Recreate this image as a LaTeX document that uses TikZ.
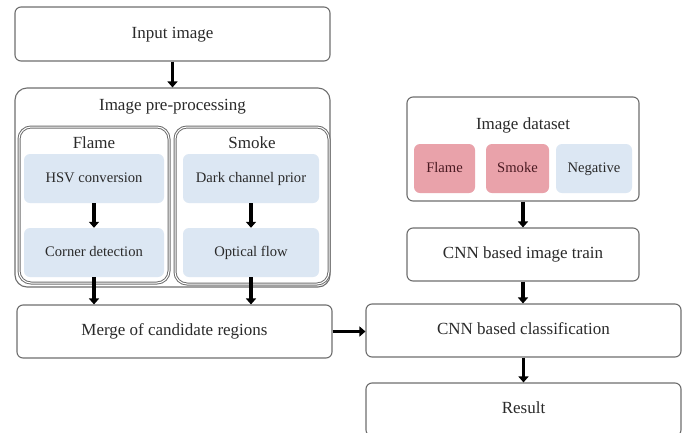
\documentclass[tikz,border=0pt]{standalone}
\usepackage{fontspec}
\setmainfont{Liberation Serif}
\usetikzlibrary{arrows.meta,positioning}
\definecolor{BoxLine}{HTML}{6E6E6E}
\definecolor{StepBlue}{HTML}{DCE7F3}
\definecolor{ClassPink}{HTML}{E9A2AA}
\definecolor{ClassText}{HTML}{4A1A22}
\definecolor{Ink}{HTML}{2A2A2A}

\begin{document}
\begin{tikzpicture}[x=1pt,y=-1pt,font=\fontsize{17}{19}\selectfont,text=Ink,
      stage/.style={rounded corners=6pt,draw=BoxLine,fill=white,
                    line width=1.1pt,inner sep=0pt,
                    text height=11.5pt,text depth=3.5pt},
      group/.style={rounded corners=12pt,draw=BoxLine,line width=1pt,
                    double=white,double distance=1pt,inner sep=0pt},
      substep/.style={rounded corners=6pt,fill=StepBlue,inner sep=0pt,
                      minimum width=140pt,minimum height=49pt,
                      text height=10pt,text depth=3pt,
                      font=\fontsize{14.6}{17}\selectfont},
      sample/.style={rounded corners=6pt,inner sep=0pt,minimum height=49pt,
                     text height=10pt,text depth=3pt,
                     font=\fontsize{14.6}{17}\selectfont},
      flow/.style={-{Triangle[length=6pt,width=10pt]},line width=3.2pt}]
    \useasboundingbox (0,0) rectangle (686,432);
    \clip (0,0) rectangle (686,432);

    % Left column: detection of candidate regions.
    \node[stage,minimum width=315pt,minimum height=54pt] (input) at (172.5,34)
      {Input image};
    \node[stage,rounded corners=12pt,minimum width=315pt,minimum height=199pt]
      (pre) at (172.5,187.5) {};
    \node (pretitle) at (172.5,107) {Image pre-processing};
    \node[group,minimum width=150pt,minimum height=156pt] (flamegrp)
      at (94,205) {};
    \node[group,minimum width=154pt,minimum height=157pt] (smokegrp)
      at (252,205.5) {};
    \node (flamelabel) at (94,143) {Flame};
    \node (smokelabel) at (252,143) {Smoke};
    \node[substep] (hsv) at (94,178.5) {HSV conversion};
    \node[substep] (corner) at (94,252.5) {Corner detection};
    \node[substep,minimum width=136pt] (dark) at (251,178.5)
      {Dark channel prior};
    \node[substep,minimum width=136pt] (optical) at (251,252.5)
      {Optical flow};
    \node[stage,minimum width=315pt,minimum height=53pt] (merge)
      at (174.5,331.5) {Merge of candidate regions};

    % Right column: training and classification.
    \node[stage,minimum width=232pt,minimum height=104pt] (dataset)
      at (523,149) {};
    \node (datatitle) at (523,125) {Image dataset};
    \foreach \name/\x/\w/\col/\ink/\txt in {
        flameset/444.5/61/ClassPink/ClassText/Flame,
        smokeset/517.5/63/ClassPink/ClassText/Smoke,
        negset/594/76/StepBlue/Ink/Negative}{%
      \node[sample,fill=\col,text=\ink,minimum width=\w pt] (\name)
        at (\x,168.5) {\txt};
    }
    \node[stage,minimum width=232pt,minimum height=53pt] (train)
      at (523,254.5) {CNN based image train};
    \node[stage,minimum width=315pt,minimum height=53pt] (classif)
      at (523.5,330.5) {CNN based classification};
    \node[stage,minimum width=315pt,minimum height=53pt] (result)
      at (523.5,409.5) {Result};

    % Arrows between the stages.
    \draw[flow] (input) -- (pre);
    \draw[flow] (hsv) -- (corner);
    \draw[flow] (dark) -- (optical);
    \draw[flow] (corner.south) -- (corner.south |- merge.north);
    \draw[flow] (optical.south) -- (optical.south |- merge.north);
    \draw[flow] (merge.east) -- (merge.east -| classif.west);
    \draw[flow] (dataset) -- (train);
    \draw[flow] (train.south) -- (train.south |- classif.north);
    \draw[flow] (classif) -- (result);
  \end{tikzpicture}
\end{document}
